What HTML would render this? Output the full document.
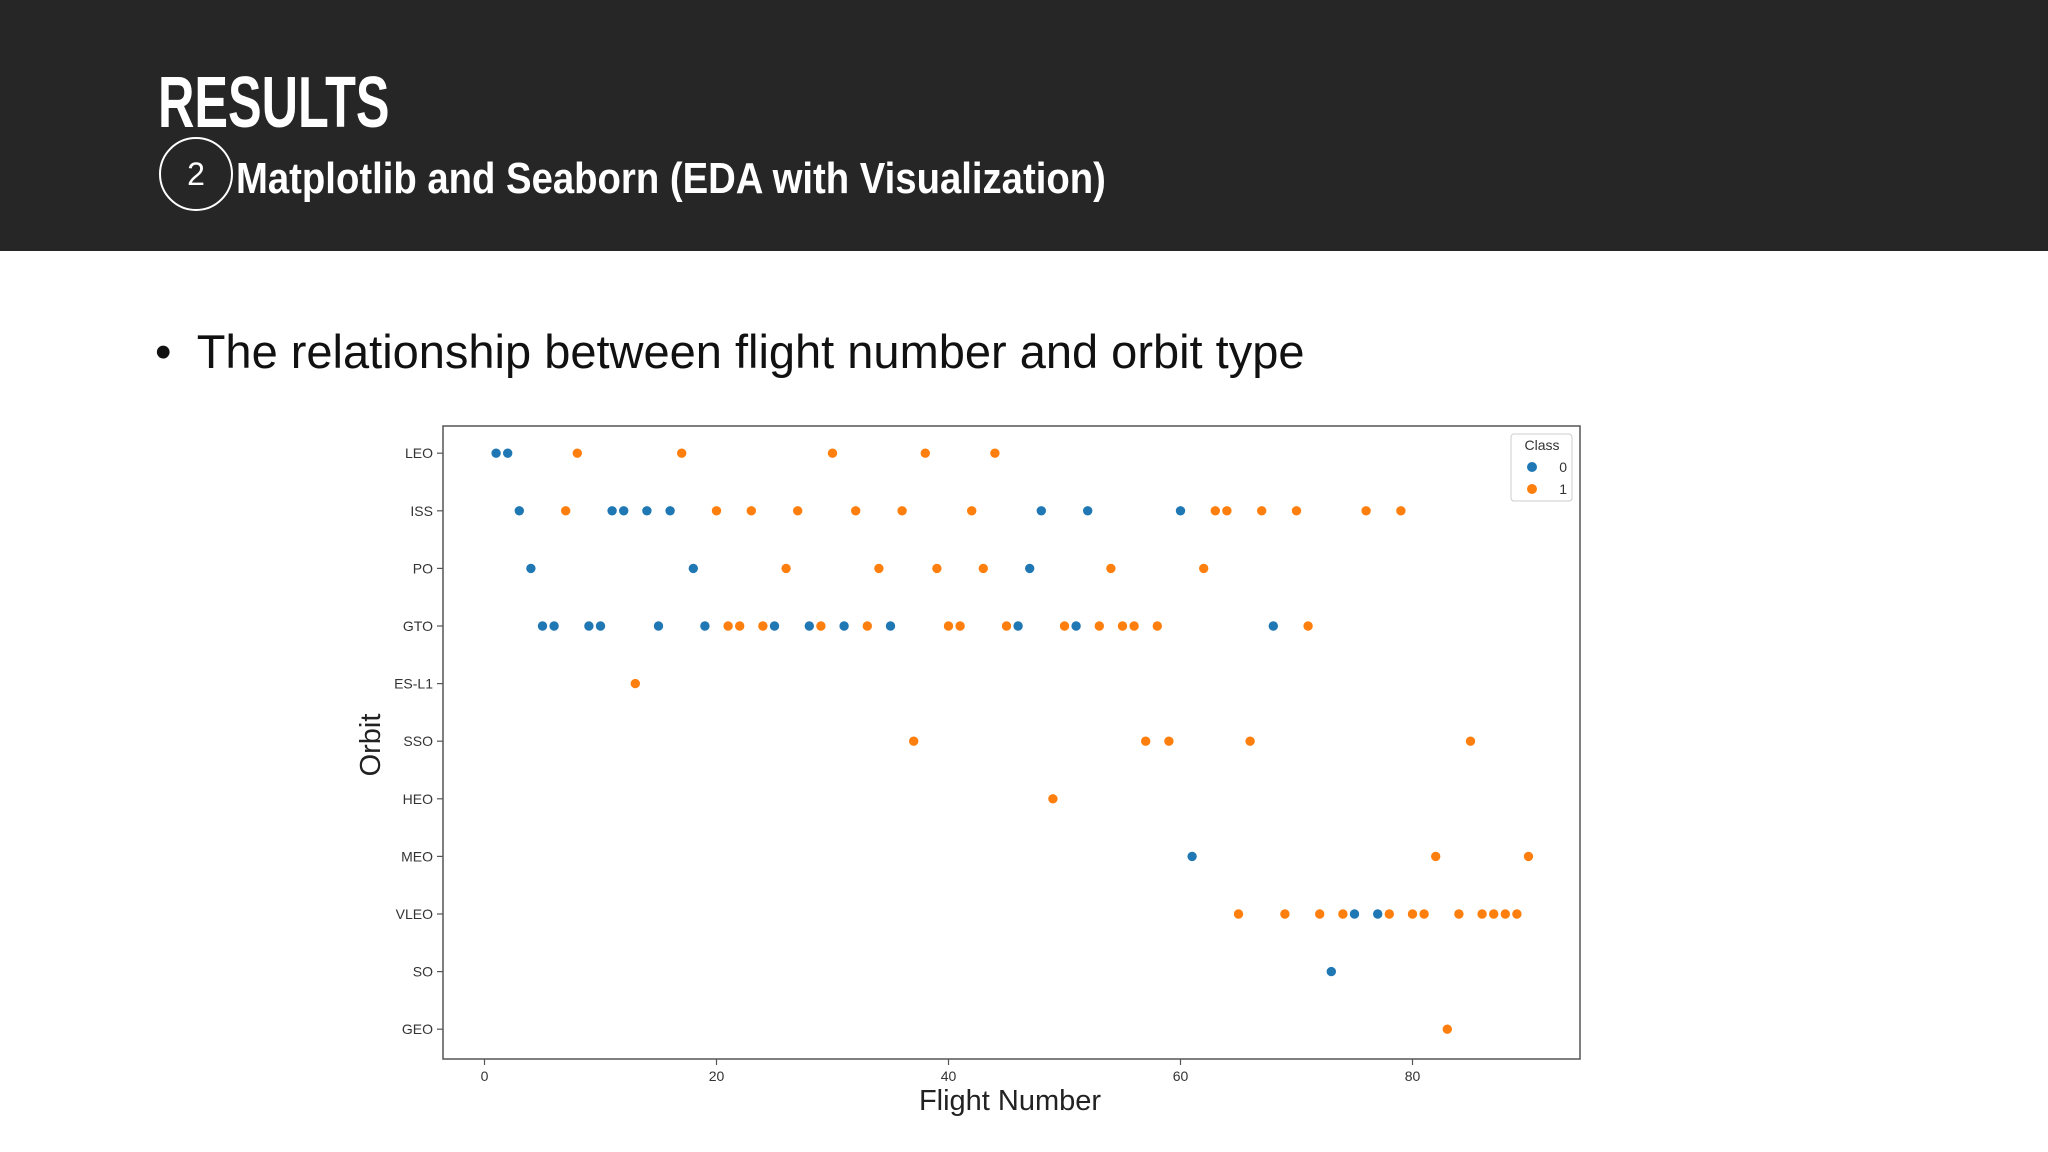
<!DOCTYPE html>
<html><head><meta charset="utf-8"><style>
body{margin:0;width:2048px;height:1152px;background:#fff;overflow:hidden;font-family:"Liberation Sans",sans-serif;position:relative}
#hdr{position:absolute;left:0;top:0;width:2048px;height:251px;background:#262626}
.t1{position:absolute;left:158px;top:62px;color:#fff;font:bold 72px "Liberation Sans",sans-serif;transform:scaleX(0.7);transform-origin:0 0;white-space:nowrap}
.t2{position:absolute;left:236px;top:154px;color:#fff;font:bold 44px "Liberation Sans",sans-serif;transform:scaleX(0.87);transform-origin:0 0;white-space:nowrap}
.circ{position:absolute;left:159px;top:137px;width:70px;height:70px;border:2px solid #fff;border-radius:50%;color:#fff;font:32px "Liberation Sans",sans-serif;text-align:center;line-height:70px}
.bul{position:absolute;left:155px;top:324px;font:47px "Liberation Sans",sans-serif;color:#111;white-space:nowrap;transform:scaleX(1.0);transform-origin:0 0}
</style></head><body>
<div id="hdr"></div>
<div class="t1">RESULTS</div>
<div class="circ">2</div>
<div class="t2">Matplotlib and Seaborn (EDA with Visualization)</div>
<div class="bul">•&nbsp; The relationship between flight number and orbit type</div>
<svg id="chart" width="2048" height="1152" style="position:absolute;left:0;top:0"></svg>
<script>
const orbits=["LEO","ISS","PO","GTO","ES-L1","SSO","HEO","MEO","VLEO","SO","GEO"];
const xTicks=[0,20,40,60,80];
const class0=[["LEO",[1,2]],["ISS",[3,11,12,14,16,48,52,60]],["PO",[4,18,47]],["GTO",[5,6,9,10,15,19,25,28,31,35,46,51,68]],["MEO",[61]],["VLEO",[75,77]],["SO",[73]]];
const class1=[["LEO",[8,17,30,38,44]],["ISS",[7,20,23,27,32,36,42,63,64,67,70,76,79]],["PO",[26,34,39,43,54,62]],["GTO",[21,22,24,29,33,40,41,45,50,53,55,56,58,71]],["ES-L1",[13]],["SSO",[37,57,59,66,85]],["HEO",[49]],["MEO",[82,90]],["VLEO",[65,69,72,74,78,80,81,84,86,87,88,89]],["GEO",[83]]];
const NS="http://www.w3.org/2000/svg";
const svg=document.getElementById('chart');
const L=443,T=426,R=1580,B=1059;
const xs=v=>484.5+v*11.6;
const ys=o=>453.2+orbits.indexOf(o)*57.6;
function mk(t,a){const e=document.createElementNS(NS,t);for(const k in a)e.setAttribute(k,a[k]);svg.appendChild(e);return e;}
const frame=mk('rect',{x:L,y:T,width:R-L,height:B-T,fill:'none',stroke:'#555','stroke-width':1.5});


orbits.forEach(o=>{
  const y=ys(o);
  const tk=mk('line',{x1:L-6,x2:L,y1:y,y2:y,stroke:'#555','stroke-width':1.2});
  
  
  const t=mk('text',{x:L-10,y:y+5,'text-anchor':'end','font-size':14,fill:'#333','font-family':'Liberation Sans, sans-serif'});
  t.textContent=o;
  
  
});
xTicks.forEach(v=>{
  const x=xs(v);
  const tk=mk('line',{x1:x,x2:x,y1:B,y2:B+6,stroke:'#555','stroke-width':1.2});
  
  
  const t=mk('text',{x:x,y:B+22,'text-anchor':'middle','font-size':14,fill:'#333','font-family':'Liberation Sans, sans-serif'});
  t.textContent=v;
  
  
});
const xt=mk('text',{x:1010,y:1110,'text-anchor':'middle','font-size':29,fill:'#222','font-family':'Liberation Sans, sans-serif'});
xt.textContent='Flight Number';


const yt=mk('text',{x:380,y:745,'text-anchor':'middle','font-size':29,fill:'#222','font-family':'Liberation Sans, sans-serif',transform:'rotate(-90 380 745)'});
yt.textContent='Orbit';


function plot(series,color,cls){
  series.forEach(([o,arr])=>arr.forEach(v=>{
    const c=mk('circle',{cx:xs(v),cy:ys(o),r:5.2,fill:color,stroke:'#fff','stroke-width':1});
    
    
  }));
}
plot(class0,'#1f77b4',0);
plot(class1,'#ff7f0e',1);
const lg=mk('rect',{x:1511,y:434,width:61,height:67,fill:'#fff',stroke:'#ccc','stroke-width':1,rx:3});


const lt=mk('text',{x:1542,y:450,'text-anchor':'middle','font-size':14,fill:'#333','font-family':'Liberation Sans, sans-serif'});
lt.textContent='Class';


[['0','#1f77b4',467],['1','#ff7f0e',489]].forEach(([n,c,y])=>{
  const m=mk('circle',{cx:1532,cy:y,r:5.5,fill:c,stroke:'#fff','stroke-width':1});
  
  
  const t=mk('text',{x:1567,y:y+5,'text-anchor':'end','font-size':14,fill:'#333','font-family':'Liberation Sans, sans-serif'});
  t.textContent=n;
  
  
});
</script>
</body></html>
